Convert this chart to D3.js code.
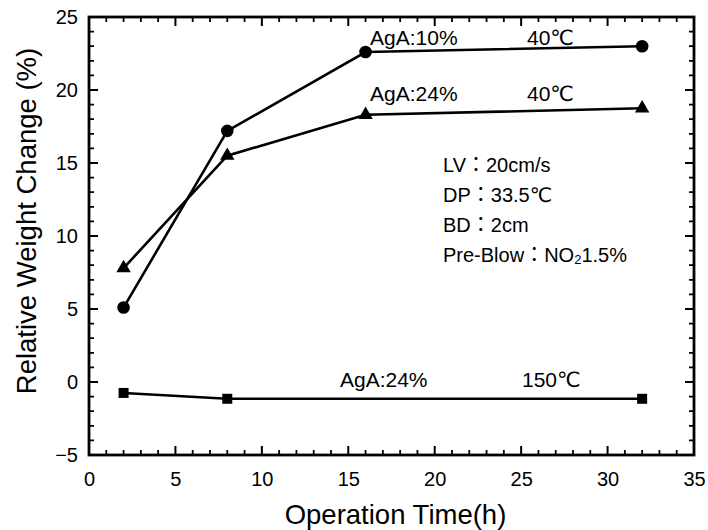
<!DOCTYPE html>
<html><head><meta charset="utf-8">
<script src="https://cdn.jsdelivr.net/npm/d3@7"></script>
<style>
html,body{margin:0;padding:0;background:#fff;}
text{font-family:"Liberation Sans",Arial,"DejaVu Sans","Noto Sans CJK JP",sans-serif;fill:#000;}
</style></head>
<body>
<svg id="chart" width="708" height="530"></svg>
<script>
// ---- data ----
const times = [2, 8, 16, 32];
const aga10_40C = [5.1, 17.2, 22.6, 23.0];
const aga24_40C = [7.8, 15.5, 18.3, 18.75];
const timesHot = [2, 8, 32];
const aga24_150C = [-0.75, -1.15, -1.15];
const xTicks = [0, 5, 10, 15, 20, 25, 30, 35];
const yTicks = [-5, 0, 5, 10, 15, 20, 25];
const xTitle = "Operation Time(h)";
const yTitle = "Relative Weight Change (%)";
const conditions = ["LV：20cm/s", "DP：33.5℃", "BD：2cm", "Pre-Blow：NO"];

// ---- layout ----
const svg = d3.select("#chart");
const L = 89, R = 694, T = 17, B = 455;
const x = d3.scaleLinear().domain([0, 35]).range([L, R]);
const y = d3.scaleLinear().domain([-5, 25]).range([B, T]);

const minorX = d3.range(0, 36, 1).filter(v => v % 5 !== 0);
const minorY = d3.range(-5, 26, 1).filter(v => v % 5 !== 0);

// inside ticks on all four sides
function segs(vals, len) {
  let d = "";
  vals.forEach(v => {
    d += `M${x(v)},${B}V${B - len}M${x(v)},${T}V${T + len}`;
  });
  return d;
}
function segsY(vals, len) {
  let d = "";
  vals.forEach(v => {
    d += `M${L},${y(v)}H${L + len}M${R},${y(v)}H${R - len}`;
  });
  return d;
}
svg.append("path").attr("d", segs(minorX, 5) + segsY(minorY, 5))
  .attr("fill", "none").attr("stroke", "#000").attr("stroke-width", 1.8);
svg.append("path").attr("d", segs(xTicks, 9) + segsY(yTicks, 9))
  .attr("fill", "none").attr("stroke", "#000").attr("stroke-width", 2);

// tick labels via d3 axes
svg.append("g").attr("transform", `translate(0,${B})`)
  .call(d3.axisBottom(x).tickValues(xTicks).tickSize(0).tickPadding(17).tickFormat(d3.format("d")))
  .call(g => { g.select(".domain").remove(); g.selectAll("text").style("font-size", "20px"); });
svg.append("g").attr("transform", `translate(${L},0)`)
  .call(d3.axisLeft(y).tickValues(yTicks).tickSize(0).tickPadding(11).tickFormat(d3.format("d")))
  .call(g => { g.select(".domain").remove(); g.selectAll("text").style("font-size", "20px"); });

// frame
svg.append("rect").attr("x", L).attr("y", T).attr("width", R - L).attr("height", B - T)
  .attr("fill", "none").attr("stroke", "#000").attr("stroke-width", 2.8);

// titles
svg.append("text").attr("x", (L + R) / 2 + 4).attr("y", 524).attr("text-anchor", "middle")
  .style("font-size", "27.5px").text(xTitle);
svg.append("text").attr("transform", `translate(36,221) rotate(-90)`)
  .attr("text-anchor", "middle").style("font-size", "27.5px").text(yTitle);

// series
const line = d3.line().x(d => x(d[0])).y(d => y(d[1]));
function drawSeries(xs, ys, shape) {
  const pts = xs.map((t, i) => [t, ys[i]]);
  svg.append("path").datum(pts).attr("d", line).attr("fill", "none")
    .attr("stroke", "#000").attr("stroke-width", 2.6);
  const sym = {circle: d3.symbol(d3.symbolCircle, 125),
               triangle: d3.symbol(d3.symbolTriangle, 90),
               square: d3.symbol(d3.symbolSquare, 100)}[shape];
  svg.selectAll(null).data(pts).enter().append("path")
    .attr("transform", d => `translate(${x(d[0])},${y(d[1])})`)
    .attr("d", sym).attr("fill", "#000");
}
drawSeries(times, aga10_40C, "circle");
drawSeries(times, aga24_40C, "triangle");
drawSeries(timesHot, aga24_150C, "square");

// annotations
const ann = [
  {t: "AgA:10%", x: 16.26, y: 23.1},
  {t: "40℃", x: 25.34, y: 23.1},
  {t: "AgA:24%", x: 16.26, y: 19.25},
  {t: "40℃", x: 25.34, y: 19.25},
  {t: "AgA:24%", x: 14.52, y: -0.34},
  {t: "150℃", x: 25.05, y: -0.34}
];
svg.selectAll(null).data(ann).enter().append("text")
  .attr("x", d => x(d.x)).attr("y", d => y(d.y))
  .style("font-size", "21px").text(d => d.t);

const condY = [14.38, 12.33, 10.27, 8.22];
conditions.forEach((c, i) => {
  const t = svg.append("text").attr("x", x(20.48)).attr("y", y(condY[i]))
    .style("font-size", "20px").text(c);
  if (i === 3) {
    t.append("tspan").attr("dy", 2).style("font-size", "13px").text("2");
    t.append("tspan").attr("dy", -2).text("1.5%");
  }
});
</script>
</body></html>
